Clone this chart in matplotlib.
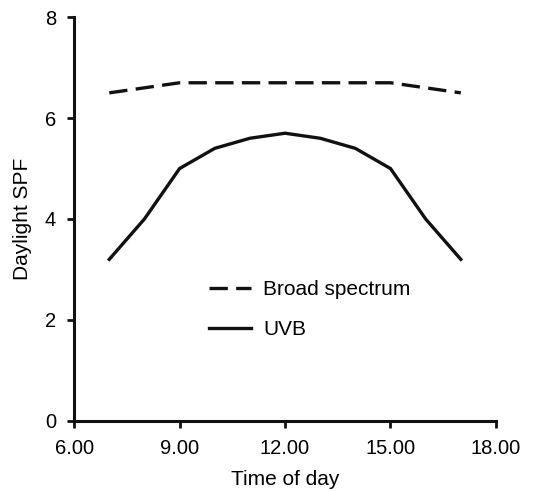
import matplotlib
matplotlib.use("Agg")
import matplotlib.pyplot as plt

# hours of day and daylight SPF values
hours = [7, 8, 9, 10, 11, 12, 13, 14, 15, 16, 17]
broad_spectrum = [6.5, 6.6, 6.7, 6.7, 6.7, 6.7, 6.7, 6.7, 6.7, 6.6, 6.5]
uvb = [3.2, 4.0, 5.0, 5.4, 5.6, 5.7, 5.6, 5.4, 5.0, 4.0, 3.2]

x_ticks = [6, 9, 12, 15, 18]
x_labels = ["6.00", "9.00", "12.00", "15.00", "18.00"]
y_ticks = [0, 2, 4, 6, 8]

plt.rcParams.update({
    "font.family": ["Liberation Sans", "DejaVu Sans"],
    "font.size": 15,
})

fig = plt.figure(figsize=(5.45, 4.91), dpi=100)
ax = fig.add_axes([0.136, 0.143, 0.774, 0.822])

ax.plot(hours, broad_spectrum, color="#111111", lw=2.4,
        dashes=(5.5, 2.5), label="Broad spectrum")
ax.plot(hours, uvb, color="#111111", lw=2.4, label="UVB")

ax.set_xlim(6, 18)
ax.set_ylim(0, 8)
ax.set_xticks(x_ticks)
ax.set_xticklabels(x_labels)
ax.set_yticks(y_ticks)

for side in ("top", "right"):
    ax.spines[side].set_visible(False)
for side in ("left", "bottom"):
    ax.spines[side].set_linewidth(2.2)
    ax.spines[side].set_color("#111111")
ax.tick_params(direction="out", length=5, width=2, color="#111111",
               labelsize=14.5, pad=8)

ax.set_xlabel("Time of day", fontsize=15, labelpad=9)
ax.set_ylabel("Daylight SPF", fontsize=15, labelpad=9)

ax.legend(loc="upper left", bbox_to_anchor=(0.275, 0.395), frameon=False,
          fontsize=15, handlelength=2.0, handletextpad=0.6, labelspacing=1.0)

fig.savefig("out.png", dpi=100)
